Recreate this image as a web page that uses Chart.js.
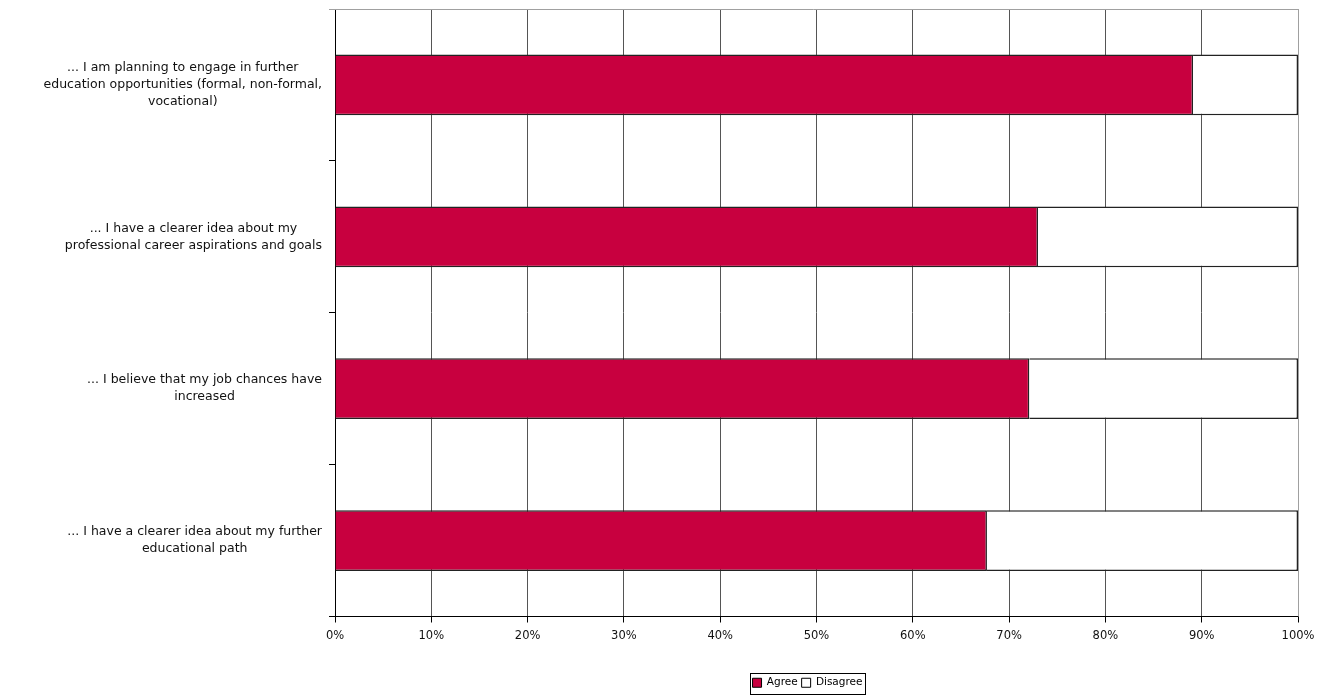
<!DOCTYPE html>
<html>
<head>
<meta charset="utf-8">
<script src="https://cdn.jsdelivr.net/npm/chart.js@4"></script>
<style>
  html, body { margin: 0; padding: 0; background: #fff; }
  #wrap { width: 1326px; height: 698px; }
</style>
</head>
<body>
<div id="wrap"><canvas id="chart" width="1326" height="698"></canvas></div>
<script>
const categories = [
  ["... I am planning to engage in further", "education opportunities (formal, non-formal,", "vocational)"],
  ["... I have a clearer idea about my", "professional career aspirations and goals"],
  ["... I believe that my job chances have", "increased"],
  ["... I have a clearer idea about my further", "educational path"]
];
const agree = [89.1, 73.0, 72.1, 67.7];
const disagree = [10.9, 27.0, 27.9, 32.3];
const xTicks = [0, 10, 20, 30, 40, 50, 60, 70, 80, 90, 100];

const FONT = "'DejaVu Sans', Tahoma, sans-serif";

// y labels: lines centred on each other, block right-aligned to the axis
const yLabels = {
  id: "yLabels",
  afterDraw(chart) {
    const ctx = chart.ctx;
    const y = chart.scales.y;
    ctx.save();
    ctx.font = "12.5px " + FONT;
    ctx.fillStyle = "#111";
    ctx.textAlign = "center";
    ctx.textBaseline = "middle";
    categories.forEach((lines, i) => {
      const widest = Math.max(...lines.map(l => ctx.measureText(l).width));
      const cx = 322 - widest / 2;
      const cy = y.getPixelForValue(i);
      const lh = 17;
      lines.forEach((l, j) => {
        ctx.fillText(l, cx, cy + (j - (lines.length - 1) / 2) * lh);
      });
    });
    ctx.restore();
  }
};

// top/right plot frame, legend centred under the plot, box round the legend
const frame = {
  id: "frame",
  afterLayout(chart) {
    const lg = chart.legend;
    lg.left = chart.chartArea.left;
    lg.right = chart.chartArea.right - 18;
    lg.width = lg.right - lg.left;
  },
  beforeDatasetsDraw(chart) {
    const {ctx, chartArea: a} = chart;
    ctx.save();
    ctx.strokeStyle = "#a0a0a0";
    ctx.lineWidth = 1;
    ctx.beginPath();
    ctx.moveTo(a.left - 6, a.top + 0.5);
    ctx.lineTo(a.right + 0.5, a.top + 0.5);
    ctx.lineTo(a.right + 0.5, a.bottom);
    ctx.stroke();
    ctx.restore();
  },
  afterDraw(chart) {
    const boxes = chart.legend.legendHitBoxes;
    if (!boxes || !boxes.length) return;
    const l = Math.min(...boxes.map(b => b.left)) - 3;
    const r = Math.max(...boxes.map(b => b.left + b.width)) + 2;
    const t = Math.min(...boxes.map(b => b.top)) - 5;
    const bt = Math.max(...boxes.map(b => b.top + b.height)) + 5;
    const ctx = chart.ctx;
    ctx.save();
    ctx.strokeStyle = "#000";
    ctx.lineWidth = 1;
    ctx.strokeRect(Math.round(l) + 0.5, Math.round(t) + 0.5, Math.round(r - l), Math.round(bt - t));
    ctx.restore();
  }
};

new Chart(document.getElementById("chart").getContext("2d"), {
  type: "bar",
  data: {
    labels: categories,
    datasets: [
      { label: "Agree", data: agree, backgroundColor: "#c8003f", borderColor: "#222", borderWidth: 1.5 },
      { label: "Disagree", data: disagree, backgroundColor: "#fff", borderColor: "#222", borderWidth: 1.5 }
    ]
  },
  options: {
    indexAxis: "y",
    responsive: false,
    animation: false,
    layout: { padding: { left: 0, right: 28, top: 9, bottom: 0 } },
    datasets: { bar: { categoryPercentage: 1, barPercentage: 0.4 } },
    scales: {
      x: {
        stacked: true,
        min: 0,
        max: 100,
        afterBuildTicks: s => { s.ticks = xTicks.map(v => ({ value: v })); },
        ticks: { callback: v => v + "%", color: "#111", font: { family: FONT, size: 11.5 }, padding: 7, maxRotation: 0 },
        grid: {
          color: c => (c.tick && c.tick.value === 100 ? "#a0a0a0" : "#555"),
          tickColor: "#000",
          tickLength: 6
        },
        border: { color: "#000" },
        afterFit: s => { s.height = 57; }
      },
      y: {
        stacked: true,
        ticks: { display: false },
        grid: { drawOnChartArea: false, tickColor: "#000", tickLength: 6 },
        border: { color: "#000" },
        afterFit: s => { s.width = 335; }
      }
    },
    plugins: {
      legend: {
        position: "bottom",
        labels: {
          boxWidth: 9,
          boxHeight: 9,
          padding: 4,
          color: "#111",
          font: { family: FONT, size: 10.5 },
          generateLabels: chart => chart.data.datasets.map((d, i) => ({
            text: d.label, fillStyle: d.backgroundColor, strokeStyle: "#000", lineWidth: 1, datasetIndex: i
          }))
        }
      },
      tooltip: { enabled: false }
    }
  },
  plugins: [yLabels, frame]
});
</script>
</body>
</html>
